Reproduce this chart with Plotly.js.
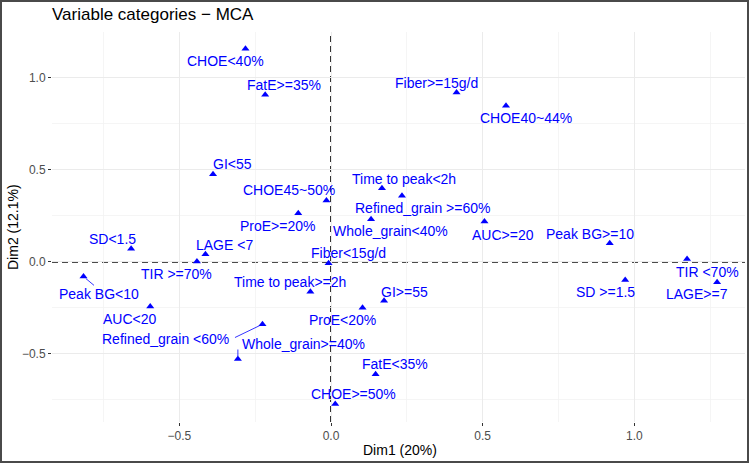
<!DOCTYPE html>
<html>
<head>
<meta charset="utf-8">
<script src="https://cdn.plot.ly/plotly-3.0.1.min.js"></script>
<style>
  body { margin: 0; background: #ffffff; }
  #chart { width: 750px; height: 464px; position: absolute; left: 0; top: 0; }
  #frame { position: absolute; left: 0; top: 0; width: 749px; height: 463px; box-sizing: border-box; border: 2px solid #4a4a4a; pointer-events: none; }
</style>
</head>
<body>
<div id="chart"></div>
<div id="frame"></div>
<script>
// ---- data ----
const categories = [
  "CHOE<40%", "FatE>=35%", "GI<55", "CHOE45~50%", "ProE>=20%", "LAGE <7", "TIR >=70%",
  "Fiber<15g/d", "Time to peak<2h", "Refined_grain >=60%", "Whole_grain<40%", "AUC>=20",
  "Peak BG>=10", "Fiber>=15g/d", "CHOE40~44%", "SD<1.5", "Peak BG<10", "AUC<20",
  "Time to peak>=2h", "ProE<20%", "GI>=55", "Refined_grain <60%", "Whole_grain>=40%",
  "FatE<35%", "CHOE>=50%", "SD >=1.5", "TIR <70%", "LAGE>=7"
];
const dim1 = [
  -0.282, -0.217, -0.389, -0.015, -0.108, -0.414, -0.442,
  -0.008, 0.168, 0.234, 0.132, 0.506,
  0.919, 0.414, 0.577, -0.659, -0.816, -0.596,
  -0.068, 0.104, 0.175, -0.226, -0.307,
  0.147, 0.014, 0.970, 1.174, 1.273
];
const dim2 = [
  1.159, 0.909, 0.477, 0.334, 0.265, 0.042, 0.002,
  -0.007, 0.401, 0.359, 0.232, 0.219,
  0.102, 0.921, 0.849, 0.072, -0.080, -0.243,
  -0.162, -0.249, -0.211, -0.339, -0.528,
  -0.611, -0.773, -0.098, 0.016, -0.110
];
// label offsets in pixels (right, down) - repel placement
const labelDx = [-20, 19, 19, -37, -20, 19, -20, 20, 22, 21, 19, 19, -20, -20, 20, -19, 15, -20, -20, -20, 20, -97, 66, 19, 18, -20, 20, -20];
const labelDy = [12, -10, -10, -10, 13, -9, 12, -10, -9, 12, 12, 13, -9, -10, 12, -10, 17, 12, -10, 12, -9, 15, -15, -10, -10, 12, 13, 12];
// leader segments (pixel offset of the segment end from the point), null = none
const leaderDx = categories.map(() => null);
const leaderDy = categories.map(() => null);
leaderDx[16] = 12;  leaderDy[16] = 10;   // Peak BG<10
leaderDx[21] = -29; leaderDy[21] = 14;   // Refined_grain <60%
leaderDx[22] = 0;   leaderDy[22] = -11;  // Whole_grain>=40%

const xTickVals = [-0.5, 0, 0.5, 1.0];
const xTickText = ["\u22120.5", "0.0", "0.5", "1.0"];
const yTickVals = [-0.5, 0, 0.5, 1.0];
const yTickText = ["\u22120.5", "0.0", "0.5", "1.0"];

const chartTitle = "Variable categories \u2212 MCA";
const xTitle = "Dim1 (20%)";
const yTitle = "Dim2 (12.1%)";

// ---- drawing ----
const FONT = "Liberation Sans, Arial, Helvetica, sans-serif";
const BLUE = "#0000FF";

const trace = {
  type: "scatter", mode: "markers", x: dim1, y: dim2, text: categories,
  hoverinfo: "text", marker: { symbol: "triangle-up", size: 7, color: BLUE }, showlegend: false
};

const annotations = [];
categories.forEach((c, i) => {
  annotations.push({
    x: dim1[i], y: dim2[i], xref: "x", yref: "y",
    text: c, showarrow: false, xshift: labelDx[i], yshift: -labelDy[i],
    xanchor: "center", yanchor: "middle",
    font: { family: FONT, size: 14, color: BLUE }
  });
  if (leaderDx[i] !== null) {
    annotations.push({
      x: dim1[i], y: dim2[i], xref: "x", yref: "y",
      text: "", showarrow: true, arrowhead: 0, arrowwidth: 0.8, arrowcolor: BLUE,
      ax: leaderDx[i], ay: leaderDy[i], standoff: 3
    });
  }
});
annotations.push({
  text: chartTitle, xref: "paper", yref: "paper", x: 0, y: 1,
  xanchor: "left", yanchor: "middle", yshift: 17.5, xshift: -2, showarrow: false,
  font: { family: FONT, size: 17, color: "#000000" }
});
annotations.push({
  text: xTitle, xref: "paper", yref: "paper", x: 0.502, y: 0,
  xanchor: "center", yanchor: "middle", yshift: -28, showarrow: false,
  font: { family: FONT, size: 14, color: "#000000" }
});
annotations.push({
  text: yTitle, xref: "paper", yref: "paper", x: 0, y: 0.5,
  xanchor: "center", yanchor: "middle", xshift: -39, textangle: -90, showarrow: false,
  font: { family: FONT, size: 14, color: "#000000" }
});

const axisCommon = {
  showline: false, zeroline: false, showgrid: true, gridcolor: "#ebebeb", gridwidth: 1,
  ticks: "outside", ticklen: 3, tickwidth: 1, tickcolor: "#333333",
  tickfont: { family: FONT, size: 12, color: "#4d4d4d" }, tickmode: "array",
  minor: { dtick: 0.25, tick0: 0, showgrid: true, gridcolor: "#f2f2f2", gridwidth: 0.8, ticks: "" }
};

const layout = {
  width: 750, height: 464,
  margin: { l: 52, r: 5, t: 32, b: 42 },
  paper_bgcolor: "#ffffff", plot_bgcolor: "#ffffff",
  xaxis: Object.assign({}, axisCommon, { range: [-0.9199, 1.365], tickvals: xTickVals, ticktext: xTickText }),
  yaxis: Object.assign({}, axisCommon, { range: [-0.8705, 1.25], tickvals: yTickVals, ticktext: yTickText }),
  shapes: [
    { type: "line", xref: "x", yref: "paper", x0: 0, x1: 0, y0: 0, y1: 1,
      line: { color: "#111111", width: 1.7, dash: "6px,4px" }, layer: "below" },
    { type: "line", xref: "paper", yref: "y", x0: 0, x1: 1, y0: 0, y1: 0,
      line: { color: "#111111", width: 1.7, dash: "6px,4px" }, layer: "below" }
  ],
  annotations: annotations,
  font: { family: FONT }
};

Plotly.newPlot("chart", [trace], layout, { staticPlot: true, displayModeBar: false });
</script>
</body>
</html>
